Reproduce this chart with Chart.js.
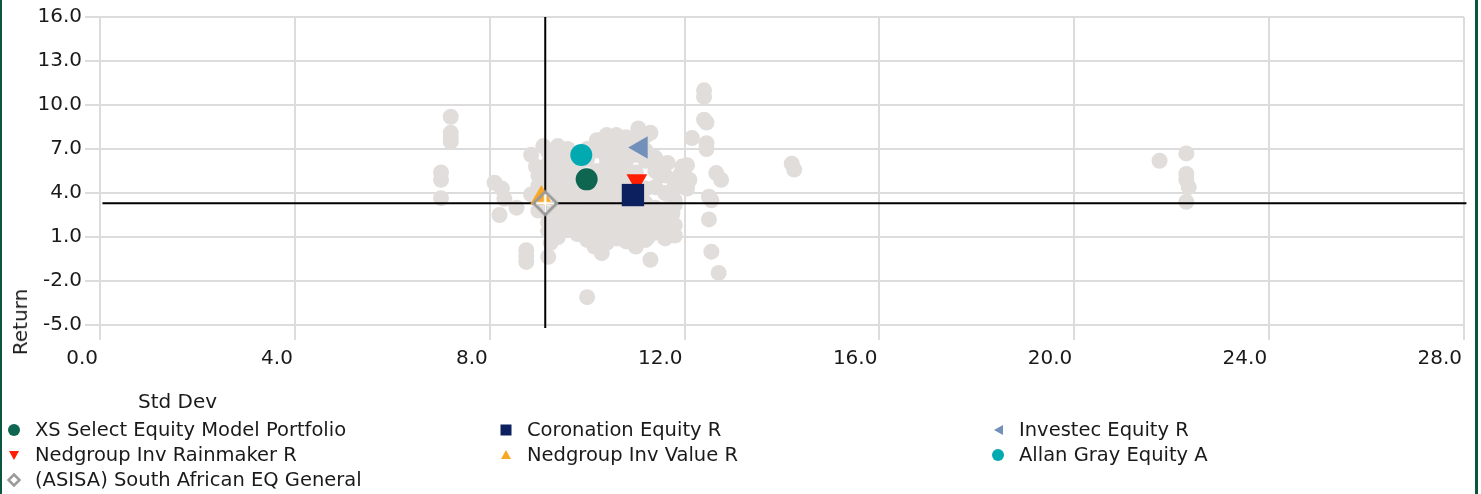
<!DOCTYPE html>
<html lang="en">
<head>
    <meta charset="UTF-8">
    <title>Risk / Return Scatter</title>
    <script src="https://cdn.jsdelivr.net/npm/chart.js"></script>
    <style>
        body { margin: 0; background: #fff; }
        #wrap { position: relative; width: 1481px; height: 494px; overflow: hidden; background: #fff;
                font-family: "DejaVu Sans", Verdana, sans-serif; font-size: 19.5px; color: #1a1a1a; }
        #chart { position: absolute; left: 0; top: 0; }
        .edge { position: absolute; top: 0; height: 494px; background: #0b5641; }
        #yTitle { position: absolute; left: 20px; top: 322px; line-height: 22px; white-space: nowrap; font-size: 20px;
                  transform: translate(-50%, -50%) rotate(-90deg); }
        #xTitle { position: absolute; left: 138px; top: 390px; line-height: 22px; font-size: 20px; }
        #legend { position: absolute; left: 7px; top: 417px; display: grid;
                  grid-template-columns: repeat(3, 492px); grid-auto-rows: 25px; }
        .item { display: flex; align-items: center; white-space: nowrap; }
        .item svg { width: 14px; height: 14px; margin-right: 14px; flex: none; }
    </style>
</head>
<body>
<div id="wrap">
    <canvas id="chart" width="1481" height="494"></canvas>
    <div class="edge" style="left:0;width:2px;"></div>
    <div class="edge" style="left:1475px;width:3px;"></div>
    <div id="yTitle">Return</div>
    <div id="xTitle">Std Dev</div>
    <div id="legend"></div>
</div>

<script>
    // axis ticks
    const xTicks = [0, 4, 8, 12, 16, 20, 24, 28];
    const yTicks = [-5, -2, 1, 4, 7, 10, 13, 16];

    // highlighted funds: [std dev, return]
    const fundNames  = ['XS Select Equity Model Portfolio', 'Coronation Equity R', 'Investec Equity R',
                        'Nedgroup Inv Rainmaker R', 'Nedgroup Inv Value R', 'Allan Gray Equity A',
                        '(ASISA) South African EQ General'];
    const fundStdDev = [9.99, 10.94, 11.11, 11.02, 9.06, 9.88, 9.14];
    const fundReturn = [4.93, 3.86, 7.10, 4.87, 3.66, 6.59, 3.30];

    // sector averages (cross hair)
    const meanStdDev = 9.14;
    const meanReturn = 3.30;

    // rest of the sector: [std dev, return]
    const peers = [
        [7.0, 5.4], [7.0, 4.9], [7.0, 3.65],
        [7.2, 9.2], [7.2, 8.1], [7.2, 7.8], [7.2, 7.5],
        [8.1, 4.7], [8.25, 4.3], [8.2, 2.5], [8.55, 3.0], [8.3, 3.6], [8.85, 3.9],
        [8.75, 0.1], [8.75, -0.3], [8.75, -0.7],
        [8.85, 6.6], [8.95, 5.8], [9.1, 7.2], [9.4, 7.2],
        [9.2, -0.35], [9.25, 0.6], [9.3, 1.3],
        [10.0, -3.1],
        [10.15, 0.35], [10.3, -0.1], [10.4, 7.95], [10.6, 7.95], [11.05, 8.4], [11.3, 8.1],
        [11.3, -0.55], [11.0, 0.35], [11.25, 1.0], [11.55, 1.5], [11.7, 2.0], [11.75, 2.6], [11.8, 3.5],
        [11.65, 6.05], [12.05, 5.9], [12.15, 7.75], [11.95, 5.8], [12.1, 4.9], [11.9, 5.2],
        [11.5, 5.2], [11.85, 4.95], [12.05, 4.3],
        [12.4, 11.0], [12.4, 10.55], [12.4, 9.0], [12.45, 8.8], [12.45, 7.4], [12.45, 7.0],
        [12.5, 3.75], [12.55, 3.5], [12.5, 2.2], [12.55, 0.0], [12.7, -1.45], [12.65, 5.36], [12.75, 4.9],
        [14.2, 6.0], [14.25, 5.6],
        [21.75, 6.2], [22.3, 6.7], [22.3, 5.3], [22.3, 4.9], [22.35, 4.4], [22.3, 3.4],
        [9.0, 3.6], [9.0, 2.8], [9.0, 4.5], [9.0, 5.2],
        [9.2, 6.8], [9.2, 6.0], [9.2, 5.3], [9.2, 4.6], [9.2, 2.6], [9.2, 2.0], [9.2, 1.4],
        [9.4, 6.5], [9.4, 5.6], [9.4, 4.8], [9.4, 3.9], [9.4, 3.1], [9.4, 2.4], [9.4, 1.7], [9.4, 1.0],
        [9.6, 7.0], [9.6, 6.1], [9.6, 5.4], [9.6, 4.4], [9.6, 3.5], [9.6, 2.8], [9.6, 2.2], [9.6, 1.6],
        [9.8, 6.6], [9.8, 5.8], [9.8, 4.9], [9.8, 4.1], [9.8, 3.2], [9.8, 2.5], [9.8, 1.9], [9.8, 1.2],
        [10.0, 7.0], [10.0, 6.3], [10.0, 5.2], [10.0, 4.3], [10.0, 3.6], [10.0, 2.9], [10.0, 2.1], [10.0, 1.5], [10.0, 0.8],
        [10.2, 7.6], [10.2, 6.9], [10.2, 5.5], [10.2, 4.6], [10.2, 3.8], [10.2, 3.0], [10.2, 2.3], [10.2, 1.7], [10.2, 1.1],
        [10.4, 7.2], [10.4, 6.4], [10.4, 5.9], [10.4, 5.0], [10.4, 4.2], [10.4, 3.4], [10.4, 2.6], [10.4, 1.9], [10.4, 1.3], [10.4, 0.6],
        [10.6, 7.3], [10.6, 6.7], [10.6, 6.0], [10.6, 5.3], [10.6, 4.5], [10.6, 3.6], [10.6, 2.8], [10.6, 2.0], [10.6, 1.4], [10.6, 0.9],
        [10.8, 7.8], [10.8, 7.0], [10.8, 6.2], [10.8, 5.6], [10.8, 4.8], [10.8, 3.9], [10.8, 3.0], [10.8, 2.2], [10.8, 1.6], [10.8, 0.7],
        [11.0, 7.5], [11.0, 6.6], [11.0, 5.4], [11.0, 4.6], [11.0, 3.5], [11.0, 2.7], [11.0, 1.9], [11.0, 1.2],
        [11.2, 7.9], [11.2, 6.9], [11.2, 6.2], [11.2, 4.3], [11.2, 3.3], [11.2, 2.4], [11.2, 1.5], [11.2, 0.8],
        [11.4, 6.4], [11.4, 5.5], [11.4, 4.4], [11.4, 3.0], [11.4, 2.2], [11.4, 1.3],
        [11.6, 5.2], [11.6, 4.0], [11.6, 2.9], [11.6, 2.3], [11.6, 0.9],
        [11.8, 4.5], [11.8, 3.2], [11.8, 1.8], [11.8, 1.1]
    ];

    // sector marker: grey diamond with a white cross
    function sectorMarker() {
        const c = document.createElement('canvas');
        c.width = 28; c.height = 28;
        const g = c.getContext('2d');
        g.strokeStyle = '#9a9a9a';
        g.lineWidth = 3;
        g.beginPath();
        g.moveTo(14, 2.5); g.lineTo(25.5, 14); g.lineTo(14, 25.5); g.lineTo(2.5, 14);
        g.closePath();
        g.stroke();
        g.strokeStyle = '#ffffff';
        g.lineWidth = 2.5;
        g.beginPath();
        g.moveTo(5, 14); g.lineTo(23, 14);
        g.moveTo(14, 5); g.lineTo(14, 23);
        g.stroke();
        return c;
    }

    const fundStyles = [
        { color: '#0e6650', pointStyle: 'circle',   radius: 11,   rotation: 0 },
        { color: '#0c1f5e', pointStyle: 'rect',     radius: 15.8, rotation: 0 },
        { color: '#7190ba', pointStyle: 'triangle', radius: 13,   rotation: -90 },
        { color: '#ff1e00', pointStyle: 'triangle', radius: 12,   rotation: 180 },
        { color: '#f9a825', pointStyle: 'triangle', radius: 13,   rotation: 0 },
        { color: '#00aab0', pointStyle: 'circle',   radius: 11,   rotation: 0 },
        { color: '#9a9a9a', pointStyle: sectorMarker(), radius: 12, rotation: 0 }
    ];

    const datasets = fundNames.map((name, i) => ({
        label: name,
        data: [{ x: fundStdDev[i], y: fundReturn[i] }],
        backgroundColor: fundStyles[i].color,
        borderColor: fundStyles[i].color,
        borderWidth: 0,
        pointStyle: fundStyles[i].pointStyle,
        pointRadius: fundStyles[i].radius,
        rotation: fundStyles[i].rotation,
        order: i === 6 ? 0 : 1
    }));

    datasets.push({
        label: 'mean-x',
        data: [{ x: meanStdDev, y: 16 }, { x: meanStdDev, y: -5.2 }],
        showLine: true, borderColor: '#000', borderWidth: 2, pointRadius: 0,
        clip: false, order: 2
    });
    datasets.push({
        label: 'mean-y',
        data: [{ x: 0.05, y: meanReturn }, { x: 28.05, y: meanReturn }],
        showLine: true, borderColor: '#000', borderWidth: 2, pointRadius: 0,
        clip: false, order: 2
    });
    datasets.push({
        label: 'peers',
        data: peers.map(p => ({ x: p[0], y: p[1] })),
        backgroundColor: '#e1dddb',
        borderWidth: 0,
        pointRadius: 8,
        order: 3
    });

    const tickFont = { family: '"DejaVu Sans", Verdana, sans-serif', size: 20 };

    const chart = new Chart(document.getElementById('chart').getContext('2d'), {
        type: 'scatter',
        data: { datasets: datasets },
        options: {
            responsive: false,
            animation: false,
            layout: { padding: { top: 17, right: 17, bottom: 0, left: 0 } },
            scales: {
                x: {
                    type: 'linear',
                    min: xTicks[0],
                    max: xTicks[xTicks.length - 1],
                    afterBuildTicks: s => { s.ticks = xTicks.map(v => ({ value: v })); },
                    afterFit: s => { s.height = 169; },
                    grid: { color: '#dcdcdc', lineWidth: 2, tickLength: 15 },
                    border: { display: false },
                    ticks: {
                        font: tickFont, color: '#1a1a1a', align: 'end', padding: 7, labelOffset: -2,
                        maxRotation: 0, callback: v => v.toFixed(1)
                    }
                },
                y: {
                    type: 'linear',
                    min: yTicks[0],
                    max: yTicks[yTicks.length - 1],
                    afterBuildTicks: s => { s.ticks = yTicks.map(v => ({ value: v })); },
                    afterFit: s => { s.width = 100; },
                    grid: { color: '#dcdcdc', lineWidth: 2, tickLength: 15 },
                    border: { display: false },
                    ticks: { font: tickFont, color: '#1a1a1a', padding: 3, callback: v => v.toFixed(1) }
                }
            },
            plugins: {
                legend: { display: false },
                tooltip: { enabled: false }
            }
        }
    });

    // legend in three columns, built from the fund list
    function legendIcon(i) {
        const c = fundStyles[i].color;
        const shapes = [
            `<circle cx="7" cy="7" r="6" fill="${c}"/>`,
            `<rect x="1.5" y="1.5" width="11" height="11" fill="${c}"/>`,
            `<polygon points="3,7 12,2 12,12" fill="${c}"/>`,
            `<polygon points="2,3 12,3 7,12" fill="${c}"/>`,
            `<polygon points="7,2 12,11 2,11" fill="${c}"/>`,
            `<circle cx="7" cy="7" r="6" fill="${c}"/>`,
            `<polygon points="7,1.5 12.5,7 7,12.5 1.5,7" fill="#fff" stroke="${c}" stroke-width="2.5"/>`
        ];
        return `<svg viewBox="0 0 14 14">${shapes[i]}</svg>`;
    }
    const legend = document.getElementById('legend');
    fundNames.forEach((name, i) => {
        const el = document.createElement('div');
        el.className = 'item';
        el.innerHTML = legendIcon(i) + '<span>' + name + '</span>';
        legend.appendChild(el);
    });
</script>
</body>
</html>
